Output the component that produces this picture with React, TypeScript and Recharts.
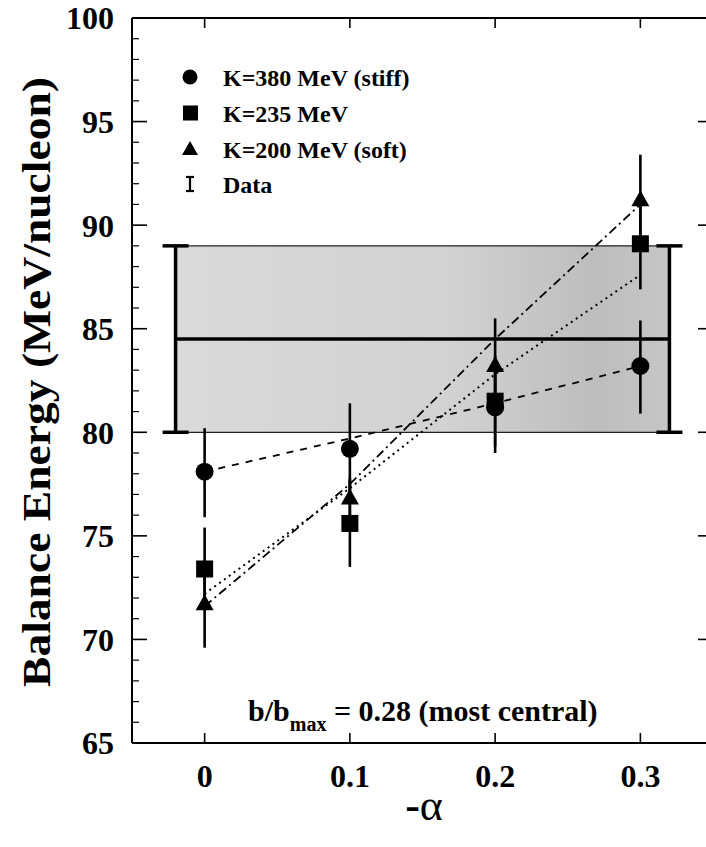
import React from "react";
import { ComposedChart, ErrorBar, Line, ReferenceArea, Scatter, XAxis, YAxis } from "recharts";

const FONT = '"Liberation Serif", "Times New Roman", serif';

const alpha = [0, 0.1, 0.2, 0.3];

// model points (balance energy) with their error bars
const stiffE = [78.1, 79.2, 81.2, 83.2];
const stiffLo = [75.9, 77.0, 79.0, 80.9];
const stiffHi = [80.2, 81.4, 83.4, 85.4];
const midE = [73.4, 75.6, 81.5, 89.1];
const midLo = [71.4, 73.5, 79.3, 86.9];
const midHi = [75.4, 77.7, 83.7, 91.3];
const softE = [71.7, 76.8, 83.2, 91.2];
const softLo = [69.6, 75.8, 81.0, 89.0];
const softHi = [73.8, 77.8, 85.5, 93.4];

// straight lines drawn through each set
const stiffFit = [78.1, 79.7, 81.4, 83.2];
const midFit = [72.2, 77.3, 82.8, 87.6];
const softFit = [71.6, 77.5, 84.5, 91.0];

// measured value (band)
const dataAlpha = [-0.02, 0.32];
const dataE = [84.5, 84.5];
const dataLo = [80, 80];
const dataHi = [89, 89];

const legendLabels = ["K=380 MeV (stiff)", "K=235 MeV", "K=200 MeV (soft)", "Data"];
const xTicks = [0, 0.1, 0.2, 0.3];
const yTicks = Array.from({ length: 36 }, (_, i) => 65 + i); // labelled every 5
const X_DOMAIN = [-0.05, 0.35];
const Y_DOMAIN = [65, 100];

const CHART_W = 720;
const CHART_H = 847;
const MARGIN = { top: 18, right: 7, bottom: 0, left: 0 };
const PLOT_TOP = MARGIN.top;
const PLOT_RIGHT = CHART_W - MARGIN.right;

function points(xs: number[], ys: number[], lo: number[], hi: number[]) {
  return xs.map((x, i) => ({ x, y: ys[i], err: [ys[i] - lo[i], hi[i] - ys[i]] }));
}
function fitLine(ys: number[]) {
  return alpha.map((x, i) => ({ x, y: ys[i] }));
}

const Dot = (p: any) => <circle cx={p.cx} cy={p.cy} r={9} fill="#000" />;
const Box = (p: any) => <rect x={p.cx - 8.5} y={p.cy - 8.5} width={17} height={17} fill="#000" />;
const Tri = (p: any) => (
  <path d={`M${p.cx},${p.cy - 10} L${p.cx + 9},${p.cy + 6} L${p.cx - 9},${p.cy + 6} Z`} fill="#000" />
);
const Nothing = () => <g />;

const labelFont = { fill: "#000", fontSize: 32, fontWeight: 700, fontFamily: FONT };
const frame = { stroke: "#000", strokeWidth: 2 };

// y ticks point inwards on both sides, labels only on the major ones
function LeftTick(p: any) {
  const v = p.payload.value;
  const isMajor = v % 5 === 0;
  const len = isMajor ? 15 : 7;
  const sw = isMajor ? 1.6 : 1.2;
  return (
    <g>
      <line x1={p.x} x2={p.x + len} y1={p.y} y2={p.y} stroke="#000" strokeWidth={sw} />
      <line x1={PLOT_RIGHT} x2={PLOT_RIGHT - len} y1={p.y} y2={p.y} stroke="#000" strokeWidth={sw} />
      {isMajor && (
        <text x={p.x - 18} y={p.y} dy="0.355em" textAnchor="end" {...labelFont}>
          {v}
        </text>
      )}
    </g>
  );
}

function BottomTick(p: any) {
  return (
    <g>
      <line x1={p.x} x2={p.x} y1={p.y} y2={p.y - 10} stroke="#000" strokeWidth={1.6} />
      <line x1={p.x} x2={p.x} y1={PLOT_TOP} y2={PLOT_TOP + 10} stroke="#000" strokeWidth={1.6} />
      <text x={p.x} y={p.y + 21} dy="0.71em" textAnchor="middle" {...labelFont}>
        {String(p.payload.value)}
      </text>
    </g>
  );
}

function Legend() {
  const rows = [77, 113, 149, 184];
  return (
    <g fontFamily={FONT} fontWeight={700} fontSize={24}>
      <circle cx={190} cy={rows[0]} r={7.5} fill="#000" />
      <rect x={183} y={rows[1] - 7.5} width={15} height={15} fill="#000" />
      <path d={`M190,${rows[2] - 8} L198,${rows[2] + 6} L182,${rows[2] + 6} Z`} fill="#000" />
      <g stroke="#000" strokeWidth={2.2}>
        <line x1={190} x2={190} y1={rows[3] - 7} y2={rows[3] + 7} />
        <line x1={186} x2={194} y1={rows[3] - 7} y2={rows[3] - 7} />
        <line x1={186} x2={194} y1={rows[3] + 7} y2={rows[3] + 7} />
      </g>
      {legendLabels.map((t, i) => (
        <text key={t} x={223} y={rows[i] + 9} fill="#000">
          {t}
        </text>
      ))}
    </g>
  );
}

export default function App() {
  return (
    <div style={{ position: "absolute", left: 0, top: 0, width: 706, height: 847, overflow: "hidden", background: "#fff" }}>
      <ComposedChart width={CHART_W} height={CHART_H} margin={MARGIN}>
        <defs>
          <linearGradient id="band" x1="0" y1="0" x2="1" y2="0">
            <stop offset="0%" stopColor="#dadada" />
            <stop offset="55%" stopColor="#d2d2d2" />
            <stop offset="85%" stopColor="#bdbdbd" />
            <stop offset="100%" stopColor="#c6c6c6" />
          </linearGradient>
        </defs>
        <XAxis
          xAxisId="x"
          dataKey="x"
          type="number"
          domain={X_DOMAIN}
          ticks={xTicks}
          interval={0}
          height={104}
          tickSize={0}
          tickMargin={0}
          axisLine={frame}
          tickLine={false}
          tick={BottomTick}
          allowDataOverflow
        />
        <YAxis
          yAxisId="y"
          dataKey="y"
          type="number"
          domain={Y_DOMAIN}
          ticks={yTicks}
          interval={0}
          width={132}
          tickSize={0}
          tickMargin={0}
          axisLine={frame}
          tickLine={false}
          tick={LeftTick}
          allowDataOverflow
        />
        {/* top and right frame lines */}
        <XAxis xAxisId="xt" orientation="top" mirror height={1} type="number" domain={X_DOMAIN} tick={false} tickLine={false} axisLine={frame} />
        <YAxis yAxisId="yr" orientation="right" mirror width={1} type="number" domain={Y_DOMAIN} tick={false} tickLine={false} axisLine={frame} />

        <ReferenceArea
          xAxisId="x"
          yAxisId="y"
          x1={dataAlpha[0]}
          x2={dataAlpha[1]}
          y1={dataLo[0]}
          y2={dataHi[0]}
          fill="url(#band)"
          fillOpacity={1}
          stroke="#222"
          strokeWidth={1.2}
        />
        <Line
          xAxisId="x"
          yAxisId="y"
          data={dataAlpha.map((x, i) => ({ x, y: dataE[i] }))}
          dataKey="y"
          stroke="#000"
          strokeWidth={3.5}
          dot={false}
          isAnimationActive={false}
        />
        <Scatter xAxisId="x" yAxisId="y" data={points(dataAlpha, dataE, dataLo, dataHi)} shape={Nothing} isAnimationActive={false}>
          <ErrorBar dataKey="err" direction="y" width={13} stroke="#000" strokeWidth={3.5} isAnimationActive={false} />
        </Scatter>

        <Line xAxisId="x" yAxisId="y" data={fitLine(stiffFit)} dataKey="y" stroke="#000" strokeWidth={1.8} strokeDasharray="7 7" dot={false} isAnimationActive={false} />
        <Line xAxisId="x" yAxisId="y" data={fitLine(midFit)} dataKey="y" stroke="#000" strokeWidth={2} strokeDasharray="2 4" dot={false} isAnimationActive={false} />
        <Line xAxisId="x" yAxisId="y" data={fitLine(softFit)} dataKey="y" stroke="#000" strokeWidth={1.8} strokeDasharray="9 4 2 4" dot={false} isAnimationActive={false} />

        <Scatter xAxisId="x" yAxisId="y" data={points(alpha, softE, softLo, softHi)} shape={Tri} isAnimationActive={false}>
          <ErrorBar dataKey="err" direction="y" width={0} stroke="#000" strokeWidth={2.6} isAnimationActive={false} />
        </Scatter>
        <Scatter xAxisId="x" yAxisId="y" data={points(alpha, midE, midLo, midHi)} shape={Box} isAnimationActive={false}>
          <ErrorBar dataKey="err" direction="y" width={0} stroke="#000" strokeWidth={2.6} isAnimationActive={false} />
        </Scatter>
        <Scatter xAxisId="x" yAxisId="y" data={points(alpha, stiffE, stiffLo, stiffHi)} shape={Dot} isAnimationActive={false}>
          <ErrorBar dataKey="err" direction="y" width={0} stroke="#000" strokeWidth={2.6} isAnimationActive={false} />
        </Scatter>
      </ComposedChart>

      <svg width={706} height={847} style={{ position: "absolute", left: 0, top: 0, pointerEvents: "none" }}>
        <text
          transform="translate(50,382) rotate(-90)"
          textAnchor="middle"
          fontSize={40}
          fontWeight={700}
          fontFamily={FONT}
          textLength={610}
          lengthAdjust="spacingAndGlyphs"
          fill="#000"
        >
          Balance Energy (MeV/nucleon)
        </text>
        <Legend />
        <text x={248} y={721} fontSize={30} fontWeight={700} fontFamily={FONT} fill="#000">
          b/b
          <tspan fontSize={20} dy={10}>max</tspan>
          <tspan dy={-10}> = 0.28 (most central)</tspan>
        </text>
        <text x={424} y={820} textAnchor="middle" fontSize={44} fontFamily={FONT} fill="#000">
          <tspan fontWeight={700}>-</tspan>α
        </text>
      </svg>
    </div>
  );
}
